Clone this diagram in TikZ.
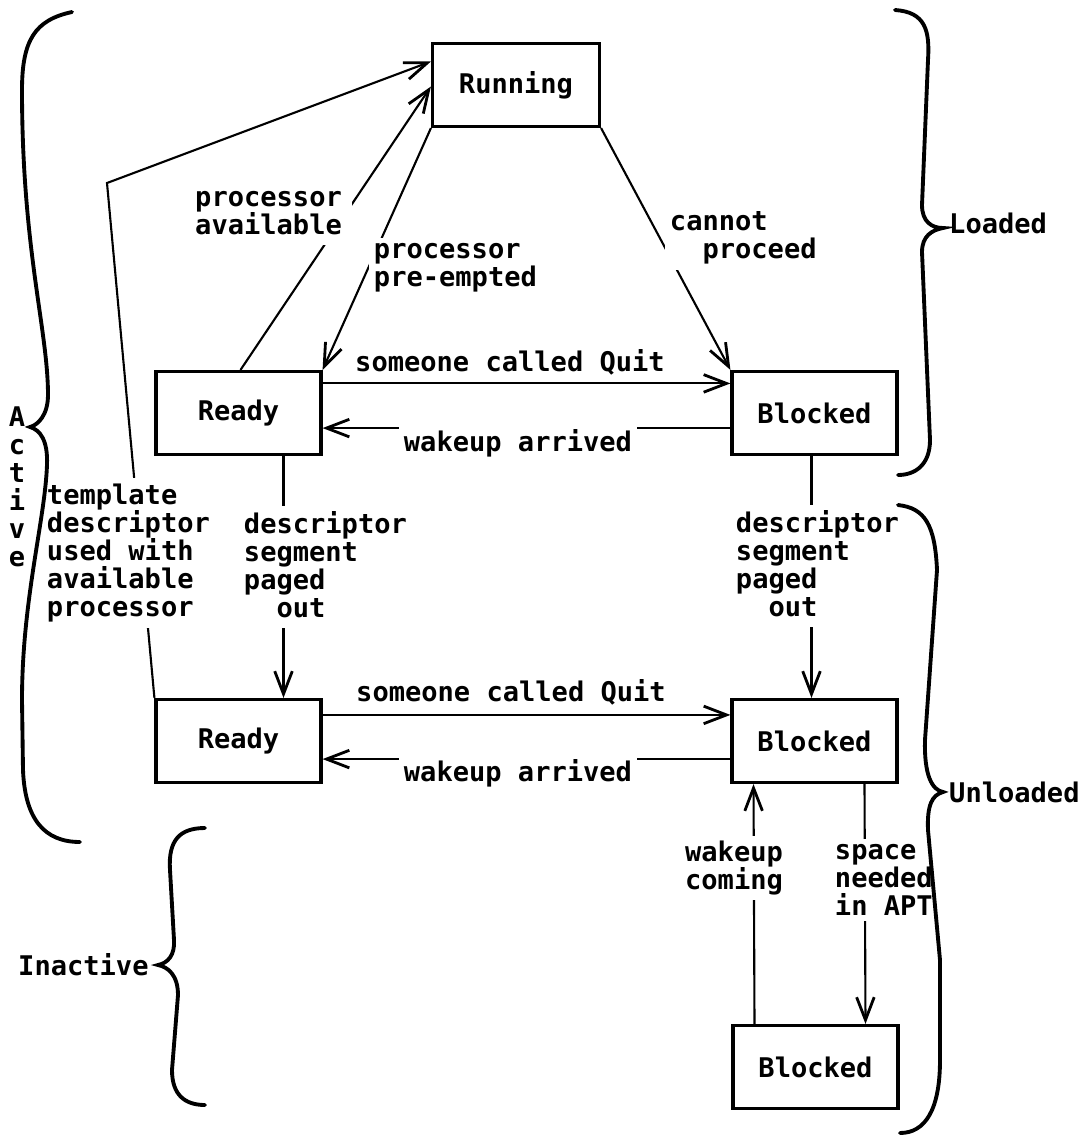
\documentclass[tikz,border=0pt]{standalone}
\usepackage{fontspec}
\setmonofont{DejaVu Sans Mono}
\usepackage{tikz}
\usetikzlibrary{arrows.meta}

\tikzset{
  zustand/.style={draw, line width=0.9pt, minimum width=16.5mm, minimum height=8.3mm, inner sep=0pt},
  pfeil/.style={line width=0.6pt, -{Straight Barb[length=6.5pt,width=5pt,line width=0.8pt]}},
  beschr/.style={fill=white, inner sep=1.5pt, align=left},
  klammer/.style={line width=1.1pt, line cap=round}
}

\begin{document}
\begin{tikzpicture}[x=0.1mm, y=-0.1mm, font=\ttfamily\bfseries\fontsize{7.7}{8}\selectfont]
            \useasboundingbox (0,0) rectangle (1081,1136);
            \node [zustand, minimum width=16.7mm] (running) at (516,85) {Running};   %Zustaende
            \node [zustand] (readyL) at (238.5,413) {Ready};
            \node [zustand] (blockedL) at (814.5,413) {Blocked};
            \node [zustand] (readyU) at (238.5,741) {Ready};
            \node [zustand] (blockedU) at (814.5,741) {Blocked};
            \node [zustand] (blockedIn) at (815.5,1067) {Blocked};
            \coordinate (knick) at (107,183);
            \draw [pfeil] (readyU.north west) -- (knick) -- ([yshift=2.35mm]running.west);   %Uebergaenge
            \draw [pfeil] ([xshift=0.2mm]readyL.north) -- ([yshift=-0.15mm]running.west);
            \draw [pfeil] (running.south west) -- (readyL.north east);
            \draw [pfeil] (running.south east) -- (blockedL.north west);
            \draw [pfeil] ([yshift=-1.35mm]readyL.north east) -- ([yshift=-1.35mm]blockedL.north west);
            \draw [pfeil] ([yshift=2.8mm]blockedL.south west) -- ([yshift=2.8mm]readyL.south east);
            \draw [pfeil] ([yshift=-1.7mm]readyU.north east) -- ([yshift=-1.7mm]blockedU.north west);
            \draw [pfeil] ([yshift=2.5mm]blockedU.south west) -- ([yshift=2.5mm]readyU.south east);
            \draw [pfeil] ([xshift=4.5mm]readyL.south) -- ([xshift=4.5mm]readyU.north);
            \draw [pfeil] ([xshift=-0.3mm]blockedL.south) -- ([xshift=-0.3mm]blockedU.north);
            \draw [pfeil] ([xshift=-6.1mm]blockedIn.north) -- ([xshift=-6.1mm]blockedU.south);
            \draw [pfeil] ([xshift=5mm]blockedU.south) -- ([xshift=5mm]blockedIn.north);
            \node [beschr, anchor=west, inner sep=3pt] (lAvail) at (184,213) {processor\\available};   %Beschriftungen
            \node [beschr, anchor=west] (lPreempt) at (368,268) {processor\\pre-empted};
            \node [beschr, anchor=west] (lCannot) at (664,238) {cannot\\\phantom{pr}proceed};
            \node [beschr] (lQuitL) at (510,362) {someone called Quit};
            \node [beschr] (lWakeL) at (518,443) {wakeup arrived};
            \node [beschr] (lQuitU) at (511,692) {someone called Quit};
            \node [beschr] (lWakeU) at (518,773) {wakeup arrived};
            \node [beschr, anchor=west] (lPagedL) at (238,567) {descriptor\\segment\\paged\\\phantom{pa}out};
            \node [beschr, anchor=west] (lPagedU) at (730,566) {descriptor\\segment\\paged\\\phantom{pa}out};
            \node [beschr, anchor=west] (lTemplate) at (41,553) {template\\descriptor\\used with\\available\\processor};
            \node [beschr, align=center] (lComing) at (734,868) {wakeup\\coming};
            \node [beschr, anchor=west] (lSpace) at (829,880) {space\\needed\\in APT};
            \node [anchor=west, inner sep=1pt] (lLoaded) at (945,223) {Loaded};
            \node [anchor=west, inner sep=1pt] (lUnloaded) at (945,792) {Unloaded};
            \node [anchor=west, inner sep=1pt] (lInactive) at (14,965) {Inactive};
            \node [align=center, inner sep=0pt] (lActive) at (17,487) {A\\c\\t\\i\\v\\e};
            \draw [klammer] (72,12) .. controls (35,20) and (22,40) .. (22,90)
                  .. controls (22,250) and (48,330) .. (48,395)
                  .. controls (48,415) and (38,425) .. (30,427)
                  .. controls (40,430) and (48,440) .. (47,465)
                  .. controls (45,520) and (22,600) .. (22,700) -- (23,770)
                  .. controls (25,820) and (45,842) .. (80,842);   %Active
            \draw [klammer] (205,828) .. controls (180,828) and (168,840) .. (170,870) -- (174,940)
                  .. controls (175,955) and (168,963) .. (158,965)
                  .. controls (168,967) and (178,975) .. (178,995) -- (172,1070)
                  .. controls (172,1095) and (185,1105) .. (205,1105);   %Inactive
            \draw [klammer] (895,10) .. controls (925,12) and (930,30) .. (928,60) -- (922,205)
                  .. controls (922,222) and (932,228) .. (943,228)
                  .. controls (932,230) and (922,236) .. (922,252) -- (930,440)
                  .. controls (930,465) and (915,475) .. (898,475);   %Loaded
            \draw [klammer] (898,505) .. controls (925,508) and (935,525) .. (937,570) -- (925,740)
                  .. controls (924,775) and (932,790) .. (943,792)
                  .. controls (932,795) and (927,805) .. (928,830) -- (940,960) -- (940,1060)
                  .. controls (940,1110) and (925,1133) .. (900,1133);   %Unloaded
        \end{tikzpicture}
\end{document}
